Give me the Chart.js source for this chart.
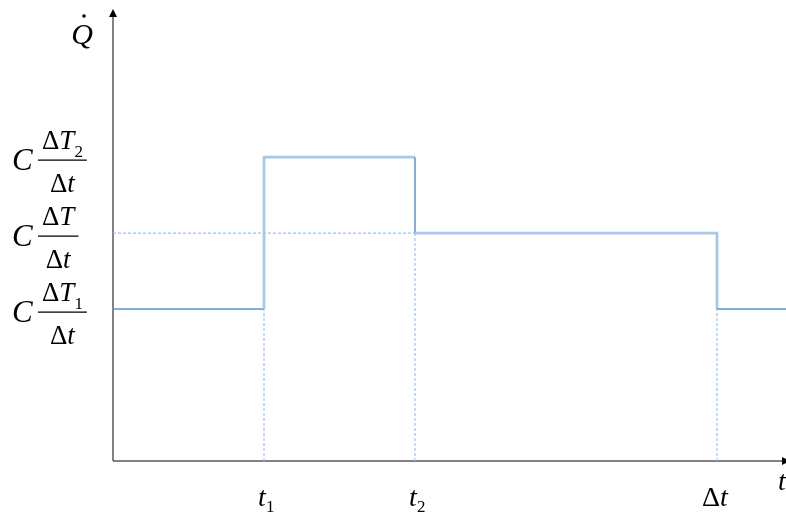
<!DOCTYPE html>
<html>
<head>
<meta charset="utf-8">
<script src="https://cdn.jsdelivr.net/npm/chart.js@4.4.0/dist/chart.umd.min.js"></script>
<style>
    body { margin: 0; background: #ffffff; }
    #chart-container { position: relative; width: 786px; height: 515px; }
</style>
</head>
<body>
<div id="chart-container">
    <canvas id="heatChart"></canvas>
</div>
<script>
    // time marks on the t axis
    const timeValues = [1, 2, 4];
    const timeLabels = ['t', 't', 'Δt'];
    const timeSubs = ['1', '2', ''];

    // heat-flow levels on the Q axis: C * (numerator / Δt)
    const levelValues = [2, 3, 4];
    const levelNumerators = ['ΔT', 'ΔT', 'ΔT'];
    const levelSubs = ['1', '', '2'];

    // step profile: breakpoints in time and the level held after each one
    const stepTimes = [0, 1, 2, 4, 4.457];
    const stepLevels = [2, 4, 3, 2];

    const xMax = 4.457;
    const yMax = 5.95;

    const SERIF = '"Liberation Serif", "Times New Roman", serif';
    const AXIS_COLOR = '#595959';
    const DARK_BLUE = '#5b93cc';
    const LIGHT_BLUE = '#a8c8e9';
    const GUIDE_BLUE = '#9cc3e8';

    // corners of the step line
    const stepData = [];
    for (let i = 0; i < stepLevels.length; i++) {
        if (i > 0) stepData.push({ x: stepTimes[i], y: stepLevels[i - 1] });
        stepData.push({ x: stepTimes[i], y: stepLevels[i] });
    }
    stepData.push({ x: stepTimes[stepTimes.length - 1], y: stepLevels[stepLevels.length - 1] });

    // which pieces of the step line are drawn light and thick
    const segmentLight = [false, true, true, false, true, true, false];

    // dotted guides: one across at the middle level, one down from each time mark
    const guideSets = [[{ x: 0, y: levelValues[1] }, { x: timeValues[1], y: levelValues[1] }]];
    timeValues.forEach(t => {
        const k = stepTimes.indexOf(t);
        const low = Math.min(stepLevels[k - 1], stepLevels[k]);
        guideSets.push([{ x: t, y: 0 }, { x: t, y: low }]);
    });

    const datasets = guideSets.map(pts => ({
        data: pts,
        borderColor: GUIDE_BLUE,
        borderWidth: 1.2,
        borderDash: [3, 2],
        pointRadius: 0,
        order: 2
    }));
    datasets.push({
        data: stepData,
        borderColor: DARK_BLUE,
        borderWidth: 1.5,
        pointRadius: 0,
        order: 1,
        segment: {
            borderColor: c => segmentLight[c.p0DataIndex] ? LIGHT_BLUE : DARK_BLUE,
            borderWidth: c => segmentLight[c.p0DataIndex] ? 2.8 : 1.5
        }
    });

    function mathParts(ctx, text, sub, size, subDy) {
        const parts = [];
        for (const ch of text) {
            parts.push({ t: ch, font: (ch === 'Δ' ? '' : 'italic ') + size + 'px ' + SERIF, dy: 0, sub: false });
        }
        if (sub) parts.push({ t: sub, font: Math.round(size * 0.62) + 'px ' + SERIF, dy: subDy, sub: true });
        parts.forEach(p => { ctx.font = p.font; p.w = ctx.measureText(p.t).width; });
        return parts;
    }

    function drawMath(ctx, text, sub, x, y, size, centerBase, subDy) {
        const parts = mathParts(ctx, text, sub, size, subDy);
        const total = parts.reduce((s, p) => s + p.w, 0);
        const baseW = parts.filter(p => !p.sub).reduce((s, p) => s + p.w, 0);
        let cx = x - (centerBase ? baseW : total) / 2;
        ctx.textAlign = 'left';
        ctx.textBaseline = 'alphabetic';
        parts.forEach(p => { ctx.font = p.font; ctx.fillText(p.t, cx, y + p.dy); cx += p.w; });
        return total;
    }

    const axesPlugin = {
        id: 'axesPlugin',
        beforeDatasetsDraw(chart) {
            const ctx = chart.ctx;
            const a = chart.chartArea;
            ctx.save();
            ctx.strokeStyle = AXIS_COLOR;
            ctx.lineWidth = 1.5;
            ctx.beginPath();
            ctx.moveTo(a.left, a.bottom);
            ctx.lineTo(a.left, a.top + 7);
            ctx.moveTo(a.left, a.bottom);
            ctx.lineTo(a.right - 4, a.bottom);
            ctx.stroke();
            ctx.fillStyle = '#000';
            ctx.beginPath();
            ctx.moveTo(a.left, a.top);
            ctx.lineTo(a.left - 4, a.top + 8);
            ctx.lineTo(a.left + 4, a.top + 8);
            ctx.closePath();
            ctx.fill();
            ctx.beginPath();
            ctx.moveTo(a.right + 4, a.bottom);
            ctx.lineTo(a.right - 4, a.bottom - 4);
            ctx.lineTo(a.right - 4, a.bottom + 4);
            ctx.closePath();
            ctx.fill();
            ctx.restore();
        },
        afterDraw(chart) {
            const ctx = chart.ctx;
            const xs = chart.scales.x;
            const ys = chart.scales.y;
            ctx.save();
            ctx.fillStyle = '#000';
            ctx.strokeStyle = '#000';

            // axis names
            ctx.font = 'italic 30px ' + SERIF;
            ctx.textAlign = 'center';
            ctx.textBaseline = 'alphabetic';
            ctx.fillText('Q', 82, 44);
            ctx.beginPath();
            ctx.arc(84, 16, 1.8, 0, Math.PI * 2);
            ctx.fill();
            ctx.font = 'italic 28px ' + SERIF;
            ctx.textAlign = 'left';
            ctx.fillText('t', 778, 490);

            // level labels as fractions
            levelValues.forEach((v, i) => {
                const bar = ys.getPixelForValue(v) + 3;
                ctx.font = 'italic 31px ' + SERIF;
                ctx.textAlign = 'left';
                ctx.fillText('C', 12, bar + 10);
                const numW = mathParts(ctx, levelNumerators[i], levelSubs[i], 27, 0).reduce((s, p) => s + p.w, 0);
                const barL = 38;
                const barW = numW + 8;
                ctx.lineWidth = 1.2;
                ctx.beginPath();
                ctx.moveTo(barL, bar);
                ctx.lineTo(barL + barW, bar);
                ctx.stroke();
                drawMath(ctx, levelNumerators[i], levelSubs[i], barL + barW / 2, bar - 11, 27, false, 8);
                drawMath(ctx, 'Δt', '', barL + barW / 2, bar + 32, 27, false, 0);
            });

            // time labels
            timeValues.forEach((t, i) => {
                drawMath(ctx, timeLabels[i], timeSubs[i], xs.getPixelForValue(t) - 2, 506, 28, true, 6);
            });
            ctx.restore();
        }
    };

    new Chart(document.getElementById('heatChart'), {
        type: 'line',
        data: { datasets: datasets },
        options: {
            responsive: true,
            maintainAspectRatio: false,
            animation: false,
            layout: { padding: { left: 113, top: 9, right: 0, bottom: 54 } },
            plugins: { legend: { display: false }, tooltip: { enabled: false } },
            scales: {
                x: { type: 'linear', min: 0, max: xMax, display: false },
                y: { type: 'linear', min: 0, max: yMax, display: false }
            }
        },
        plugins: [axesPlugin]
    });
</script>
</body>
</html>
